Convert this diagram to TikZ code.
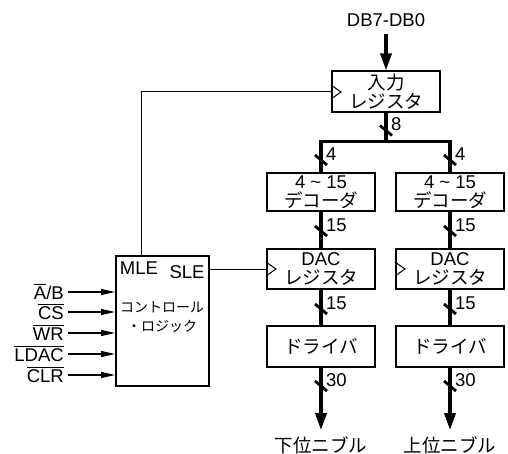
\documentclass[tikz,border=0pt]{standalone}
\usepackage{fontspec}
\setmainfont{Liberation Sans}
\newfontfamily\jp{Noto Sans CJK JP}
\usepackage{tikz}
\usetikzlibrary{arrows.meta, positioning, calc}
\newcommand{\barsig}[1]{\vbox{\hrule height 1pt\kern1.3pt\hbox{#1}}}
\newcommand{\jpt}[1]{{\jp\fontsize{18.5}{19}\selectfont #1}}

\begin{document}
\begin{tikzpicture}[x=1pt, y=-1pt,
  blk/.style={draw, line width=2pt, minimum width=108pt, inner sep=0pt,
              align=center, font=\fontsize{18.5}{19}\selectfont},
  bus/.style={line width=3.4pt},
  busarrow/.style={bus, -{Triangle[length=17pt, width=11pt]}},
  sig/.style={line width=1.2pt, -{Triangle[length=14pt, width=6pt]}},
  wire/.style={line width=1pt},
  tick/.style={line width=2.8pt},
  lbl/.style={font=\fontsize{18.5}{19}\selectfont, inner sep=0pt},
  wlbl/.style={lbl, anchor=west},
  siglbl/.style={lbl, anchor=east, text height=14pt, text depth=0pt},
  jplbl/.style={lbl, font=\jp\fontsize{18.5}{19}\selectfont}
]
\useasboundingbox (0,0) rectangle (508,454);

\node[lbl] (db) at (386,20) {DB7-DB0};
\node[blk, minimum height=41pt] (inreg) at (386,92) {\jpt{入力}\\\jpt{レジスタ}};
\coordinate (split) at (386,141.7);

\node[blk, minimum height=38pt] (decL) at (321,192) {4 \textasciitilde{} 15\\\jpt{デコーダ}};
\node[blk, minimum height=38pt] (decR) at (450,192) {4 \textasciitilde{} 15\\\jpt{デコーダ}};
\node[blk, minimum height=40pt, below=36pt of decL.south, anchor=north] (dacL) {DAC\\\jpt{レジスタ}};
\node[blk, minimum height=40pt, below=36pt of decR.south, anchor=north] (dacR) {DAC\\\jpt{レジスタ}};
\node[blk, minimum height=41pt, below=35pt of dacL.south, anchor=north] (drvL) {\jpt{ドライバ}};
\node[blk, minimum height=41pt, below=35pt of dacR.south, anchor=north] (drvR) {\jpt{ドライバ}};
\node[jplbl] (loL) at (321,445) {下位ニブル};
\node[jplbl] (hiR) at (450,445) {上位ニブル};

\node[draw, line width=2pt, minimum width=93pt, minimum height=130pt] (ctrl) at (162.5,321) {};
\node[lbl] (mle) at (139,268) {MLE};
\node[lbl] (sle) at (187,272) {SLE};
\node[lbl, align=center, font=\jp\fontsize{14}{19}\selectfont] (logic) at (162,317) {コントロール\\・ロジック};

\draw[busarrow, shorten <=7pt] (db.south) -- (inreg.north);
\draw[bus] (inreg.south) -- (split);
\draw[bus] (decL.north) -- (decL.north |- split) -- (decR.north |- split) -- (decR.north);
\draw[bus] (decL.south) -- (dacL.north);
\draw[bus] (decR.south) -- (dacR.north);
\draw[bus] (dacL.south) -- (drvL.north);
\draw[bus] (dacR.south) -- (drvR.north);
\draw[busarrow, shorten >=6pt] (drvL.south) -- (loL.north);
\draw[busarrow, shorten >=6pt] (drvR.south) -- (hiR.north);

\foreach \x/\y/\w in {386/130.5/8, 321/160/4, 450/160/4, 321/231/15, 450/231/15,
                      321/309/15, 450/309/15, 321/386/30, 450/386/30} {
  \draw[tick] (\x-6,\y-5) -- (\x+6,\y+5);
  \node[wlbl] (w\x-\y) at (\x+5,\y-6) {\w};
}

\foreach \r in {inreg, dacL, dacR} {
  \draw[wire] ([yshift=7pt]\r.west) -- ++(10,7) -- ++(-10,7);
}
\draw[wire] ([xshift=26pt]ctrl.north west) |- (inreg.west);
\draw[wire] (ctrl.east |- dacL.west) -- (dacL.west);

\node[siglbl] (sAB) at (64,292) {\barsig{A}/B};
\draw[sig] ([xshift=4pt]sAB.east) -- (sAB.east -| ctrl.west);
\foreach \y/\txt in {312/CS, 333/WR, 354/LDAC, 375/CLR} {
  \node[siglbl] (s\txt) at (64,\y) {\barsig{\txt}};
  \draw[sig] ([xshift=4pt]s\txt.east) -- (s\txt.east -| ctrl.west);
}
\end{tikzpicture}
\end{document}
